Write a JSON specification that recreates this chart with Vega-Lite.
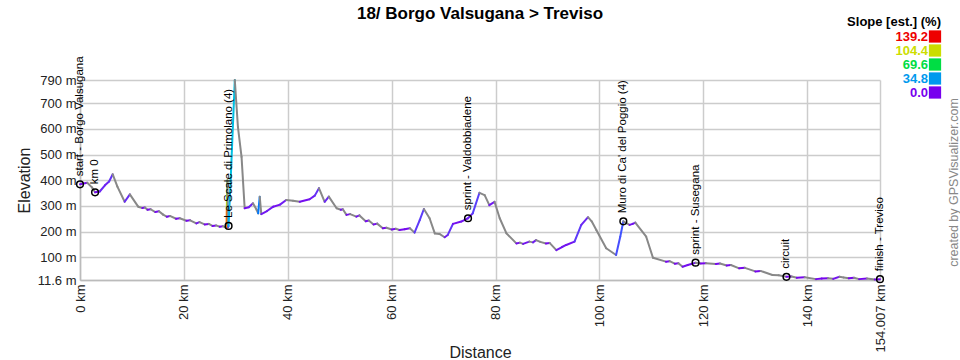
{
  "$schema": "https://vega.github.io/schema/vega-lite/v6.json",
  "width": 800,
  "height": 200,
  "autosize": {"type": "none"},
  "padding": {"left": 80, "top": 80, "right": 80, "bottom": 80},
  "background": "white",
  "config": {"view": {"stroke": null}, "font": "Liberation Sans"},
  "title": {"text": "18/ Borgo Valsugana > Treviso", "fontSize": 17, "font": "Liberation Sans", "fontWeight": "bold", "color": "#000000", "offset": -7},
  "datasets": {
    "profile": [
      {"km": 0, "ele": 384}, {"km": 1.4, "ele": 390}, {"km": 2.3, "ele": 372}, {"km": 2.9, "ele": 353},
      {"km": 3.8, "ele": 356}, {"km": 4.8, "ele": 380}, {"km": 5.6, "ele": 395}, {"km": 6.3, "ele": 423},
      {"km": 7.2, "ele": 375}, {"km": 8.6, "ele": 316}, {"km": 9.6, "ele": 345}, {"km": 11.2, "ele": 297},
      {"km": 12.0, "ele": 292}, {"km": 12.5, "ele": 294}, {"km": 13.0, "ele": 285}, {"km": 13.6, "ele": 287},
      {"km": 14.5, "ele": 276}, {"km": 15.2, "ele": 279}, {"km": 16.0, "ele": 266}, {"km": 16.7, "ele": 258},
      {"km": 17.3, "ele": 261}, {"km": 18.5, "ele": 250}, {"km": 19.2, "ele": 252}, {"km": 20.5, "ele": 242},
      {"km": 21.2, "ele": 244}, {"km": 22.4, "ele": 232}, {"km": 23.0, "ele": 237}, {"km": 24.0, "ele": 228},
      {"km": 24.8, "ele": 230}, {"km": 25.5, "ele": 222}, {"km": 26.2, "ele": 224}, {"km": 26.9, "ele": 219},
      {"km": 27.5, "ele": 221}, {"km": 28.2, "ele": 213}, {"km": 28.26, "ele": 290}, {"km": 28.32, "ele": 350},
      {"km": 28.38, "ele": 400}, {"km": 28.5, "ele": 218}, {"km": 28.6, "ele": 222}, {"km": 29.0, "ele": 400},
      {"km": 29.8, "ele": 790}, {"km": 30.4, "ele": 608}, {"km": 31.1, "ele": 491}, {"km": 31.7, "ele": 291},
      {"km": 32.5, "ele": 295}, {"km": 33.3, "ele": 310}, {"km": 34.0, "ele": 285}, {"km": 34.3, "ele": 271},
      {"km": 34.6, "ele": 336}, {"km": 34.9, "ele": 268}, {"km": 36.0, "ele": 280}, {"km": 37.2, "ele": 297},
      {"km": 38.5, "ele": 305}, {"km": 39.7, "ele": 323}, {"km": 41.0, "ele": 320}, {"km": 42.3, "ele": 316},
      {"km": 44.2, "ele": 326}, {"km": 45.2, "ele": 340}, {"km": 46.0, "ele": 369}, {"km": 47.1, "ele": 316},
      {"km": 47.9, "ele": 336}, {"km": 49.4, "ele": 291}, {"km": 50.2, "ele": 285}, {"km": 50.6, "ele": 287},
      {"km": 51.3, "ele": 265}, {"km": 52.0, "ele": 268}, {"km": 53.2, "ele": 258}, {"km": 53.8, "ele": 263},
      {"km": 55.0, "ele": 240}, {"km": 55.6, "ele": 243}, {"km": 56.5, "ele": 228}, {"km": 57.2, "ele": 231},
      {"km": 58.3, "ele": 213}, {"km": 59.0, "ele": 215}, {"km": 60.0, "ele": 208}, {"km": 60.8, "ele": 211},
      {"km": 61.5, "ele": 206}, {"km": 62.5, "ele": 209}, {"km": 63.5, "ele": 213}, {"km": 64.4, "ele": 196},
      {"km": 65.4, "ele": 245}, {"km": 66.2, "ele": 288}, {"km": 67.3, "ele": 252}, {"km": 68.3, "ele": 193},
      {"km": 69.2, "ele": 191}, {"km": 70.2, "ele": 178}, {"km": 70.8, "ele": 187}, {"km": 71.8, "ele": 230},
      {"km": 73.4, "ele": 239}, {"km": 74.7, "ele": 252}, {"km": 75.6, "ele": 271}, {"km": 76.9, "ele": 351},
      {"km": 77.9, "ele": 342}, {"km": 78.8, "ele": 303}, {"km": 79.8, "ele": 316}, {"km": 80.8, "ele": 252},
      {"km": 82.1, "ele": 193}, {"km": 84.0, "ele": 154}, {"km": 84.7, "ele": 157}, {"km": 85.3, "ele": 152},
      {"km": 86.5, "ele": 161}, {"km": 87.2, "ele": 158}, {"km": 87.8, "ele": 167}, {"km": 88.6, "ele": 160},
      {"km": 89.7, "ele": 154}, {"km": 90.4, "ele": 156}, {"km": 91.7, "ele": 128}, {"km": 92.8, "ele": 140},
      {"km": 93.6, "ele": 148}, {"km": 95.2, "ele": 161}, {"km": 96.5, "ele": 226}, {"km": 97.8, "ele": 256},
      {"km": 98.5, "ele": 240}, {"km": 99.4, "ele": 206}, {"km": 101.3, "ele": 135}, {"km": 103.2, "ele": 109},
      {"km": 104.0, "ele": 180}, {"km": 104.6, "ele": 240}, {"km": 105.8, "ele": 226}, {"km": 106.4, "ele": 230},
      {"km": 106.9, "ele": 235}, {"km": 109.0, "ele": 180}, {"km": 110.3, "ele": 98}, {"km": 112.8, "ele": 83},
      {"km": 113.5, "ele": 85}, {"km": 114.5, "ele": 75}, {"km": 115.2, "ele": 77}, {"km": 116.0, "ele": 63},
      {"km": 117.0, "ele": 70}, {"km": 118.5, "ele": 79}, {"km": 119.5, "ele": 76}, {"km": 120.5, "ele": 77},
      {"km": 122.4, "ele": 74}, {"km": 123.2, "ele": 76}, {"km": 124.5, "ele": 68}, {"km": 125.3, "ele": 70},
      {"km": 126.9, "ele": 57}, {"km": 128.0, "ele": 59}, {"km": 130.0, "ele": 45}, {"km": 131.0, "ele": 47},
      {"km": 133.3, "ele": 31}, {"km": 134.5, "ele": 30}, {"km": 136.0, "ele": 24}, {"km": 137.0, "ele": 25},
      {"km": 138.0, "ele": 20}, {"km": 139.5, "ele": 22}, {"km": 141.7, "ele": 15}, {"km": 142.8, "ele": 17},
      {"km": 144.0, "ele": 18}, {"km": 145.0, "ele": 16}, {"km": 146.2, "ele": 24}, {"km": 147.0, "ele": 21},
      {"km": 148.0, "ele": 18}, {"km": 149.0, "ele": 20}, {"km": 150.0, "ele": 15}, {"km": 151.5, "ele": 17},
      {"km": 153.0, "ele": 14}, {"km": 154.007, "ele": 15}
    ],
    "waypoints": [
      {"km": 0, "ele": 384, "name": "start - Borgo Valsugana"},
      {"km": 2.9, "ele": 353, "name": "km 0"},
      {"km": 28.6, "ele": 222, "name": "Le Scale di Primolano (4)"},
      {"km": 74.7, "ele": 252, "name": "sprint - Valdobbiadene"},
      {"km": 104.6, "ele": 240, "name": "Muro di Ca' del Poggio (4)"},
      {"km": 118.5, "ele": 79, "name": "sprint - Susegana"},
      {"km": 136.0, "ele": 24, "name": "circuit"},
      {"km": 154.007, "ele": 15, "name": "finish - Treviso"}
    ]
  },
  "layer": [
    {
      "data": {"name": "profile"},
      "transform": [
        {"window": [{"op": "lead", "field": "km", "as": "km2"}, {"op": "lead", "field": "ele", "as": "ele2"}], "sort": [{"field": "km", "order": "ascending"}]},
        {"filter": "datum.km2 != null"},
        {"calculate": "(datum.ele2 - datum.ele) / ((datum.km2 - datum.km) * 10)", "as": "slope"}
      ],
      "mark": {"type": "rule", "strokeWidth": 2, "strokeCap": "round"},
      "encoding": {
        "x": {
          "field": "km", "type": "quantitative",
          "scale": {"domain": [0, 154.007], "nice": false, "zero": false},
          "axis": {
            "values": [0, 20, 40, 60, 80, 100, 120, 140, 154.007],
            "labelExpr": "datum.value + ' km'",
            "labelAngle": -90, "labelAlign": "right", "labelBaseline": "middle",
            "labelFontSize": 13, "labelColor": "#222222", "labelPadding": 4,
            "tickSize": 0, "grid": true, "gridColor": "#cccccc", "gridWidth": 1.5,
            "domainColor": "#bbbbbb", "domainWidth": 1.5,
            "title": "Distance", "titleFontSize": 16, "titleFontWeight": "normal", "titleColor": "#222222",
            "titleY": 64, "titleBaseline": "top", "labelOverlap": false, "labelFlush": false, "labelBound": false
          }
        },
        "x2": {"field": "km2"},
        "y": {
          "field": "ele", "type": "quantitative",
          "scale": {"domain": [11.6, 790], "nice": false, "zero": false},
          "axis": {
            "values": [11.6, 100, 200, 300, 400, 500, 600, 700, 790],
            "labelExpr": "datum.value + ' m'",
            "labelFontSize": 13, "labelColor": "#222222", "labelPadding": 4,
            "tickSize": 0, "grid": true, "gridColor": "#cccccc", "gridWidth": 1.5,
            "domainColor": "#bbbbbb", "domainWidth": 1.5,
            "title": "Elevation", "titleFontSize": 16, "titleFontWeight": "normal", "titleColor": "#222222",
            "titlePadding": 5, "labelOverlap": false, "labelFlush": false, "labelBound": false
          }
        },
        "y2": {"field": "ele2"},
        "color": {
          "condition": {"test": "datum.slope < 0", "value": "#888888"},
          "field": "slope", "type": "quantitative",
          "scale": {"domain": [0, 34.8, 69.6, 104.4, 139.2], "range": ["#7700ee", "#0099ee", "#00dd44", "#ccdd00", "#ee0000"], "clamp": true},
          "legend": {
            "type": "symbol",
            "values": [139.2, 104.4, 69.6, 34.8, 0],
            "format": ".1f",
            "title": "Slope [est.] (%)",
            "orient": "none", "legendX": 767, "legendY": -64,
            "titleFontSize": 13, "titleFontWeight": "bold", "titleColor": "#000000", "titleAnchor": "end", "titleAlign": "right", "titlePadding": 1,
            "labelFontSize": 13, "labelFontWeight": "bold",
            "symbolType": "square", "symbolSize": 150, "symbolStrokeWidth": 0, "rowPadding": -2,
            "encode": {
              "labels": {"update": {"fill": {"scale": "color", "field": "value"}, "x": {"value": 38}, "align": {"value": "right"}}},
              "symbols": {"update": {"fill": {"scale": "color", "field": "value"}, "stroke": {"value": "transparent"}, "shape": {"value": "square"}, "opacity": {"value": 1}, "x": {"value": 45}}}
            }
          }
        }
      }
    },
    {
      "data": {"name": "waypoints"},
      "mark": {"type": "point", "shape": "circle", "filled": false, "stroke": "#000000", "strokeWidth": 1.5, "size": 45, "opacity": 1},
      "encoding": {
        "x": {"field": "km", "type": "quantitative"},
        "y": {"field": "ele", "type": "quantitative", "axis": null}
      }
    },
    {
      "data": {"name": "waypoints"},
      "mark": {"type": "text", "angle": 270, "align": "left", "baseline": "middle", "dx": 8, "fontSize": 11.5, "font": "Liberation Sans", "color": "#000000"},
      "encoding": {
        "x": {"field": "km", "type": "quantitative"},
        "y": {
          "field": "ele", "type": "quantitative",
          "axis": {
            "orient": "right", "labels": false, "ticks": false, "domain": false, "grid": false,
            "title": "created by GPSVisualizer.com", "titleFontSize": 12.5, "titleFontWeight": "normal", "titleColor": "#888888",
            "titleAngle": 270, "titleX": 73, "titleY": 102, "titleAlign": "center", "titleBaseline": "middle"
          }
        },
        "text": {"field": "name"}
      }
    }
  ],
  "resolve": {"axis": {"y": "independent"}}
}
